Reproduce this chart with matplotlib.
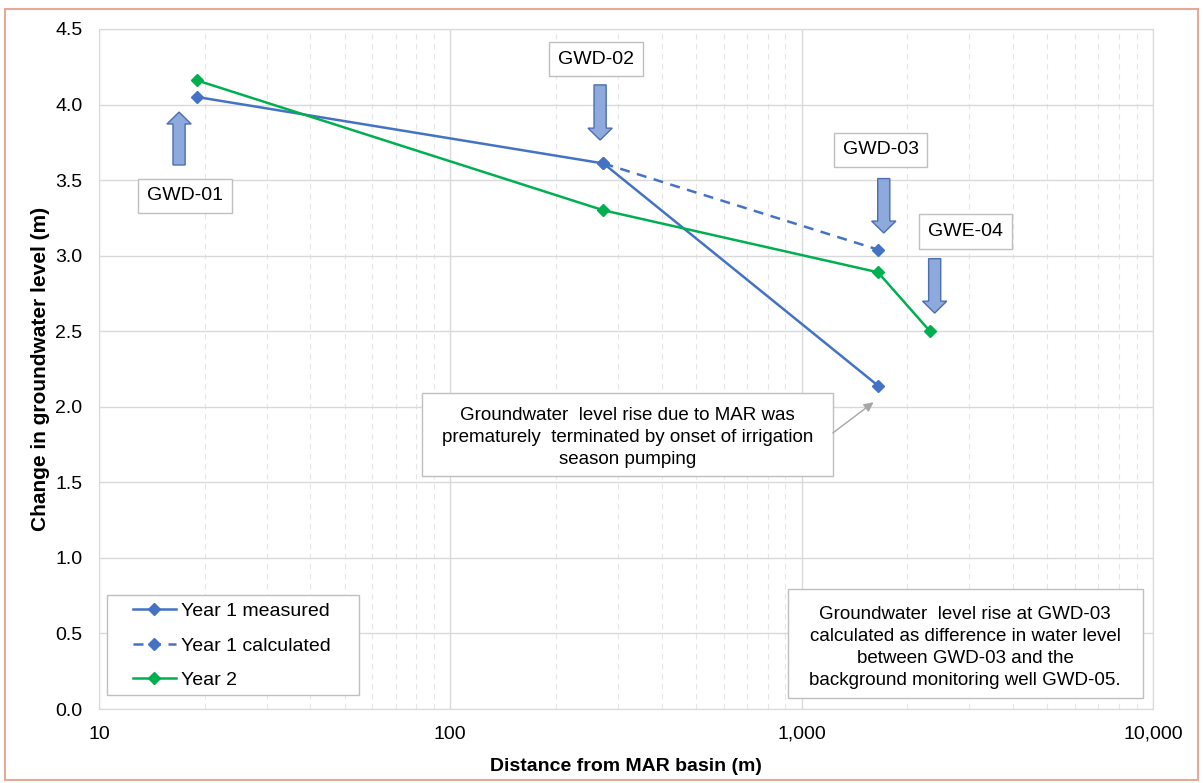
import numpy as np
import matplotlib.pyplot as plt
from matplotlib.patches import FancyArrow, Rectangle
from matplotlib.ticker import FuncFormatter, LogLocator, NullFormatter

plt.rcParams['font.family'] = ['Liberation Sans', 'DejaVu Sans']

# distances (m) and groundwater level change (m)
y1_meas_x = [19, 273, 1650]
y1_meas_y = [4.05, 3.61, 2.14]
y1_calc_x = [273, 1650]
y1_calc_y = [3.61, 3.04]
y2_x = [19, 273, 1650, 2320]
y2_y = [4.16, 3.30, 2.89, 2.50]

well_names = ['GWD-01', 'GWD-02', 'GWD-03', 'GWE-04']
well_dist = [16.9, 267, 1714, 2393]

blue = '#4472C4'
green = '#00B050'
box_edge = '#BFBFBF'

fig = plt.figure(figsize=(12.03, 7.83), dpi=100)
fig.patches.append(Rectangle((0.004, 0.004), 0.992, 0.984, transform=fig.transFigure,
                             fill=False, edgecolor='#E8A898', linewidth=1.5))
ax = fig.add_axes([0.0823, 0.0945, 0.876, 0.8685])

ax.plot(y1_meas_x, y1_meas_y, color=blue, lw=1.8, marker='D', ms=6.5, label='Year 1 measured')
ax.plot(y1_calc_x, y1_calc_y, color=blue, lw=1.8, ls=(0, (4, 3)), marker='D', ms=6.5,
        label='Year 1 calculated')
ax.plot(y2_x, y2_y, color=green, lw=1.8, marker='D', ms=6.5, label='Year 2')

ax.set_xscale('log')
ax.set_xlim(10, 10000)
ax.set_ylim(0, 4.5)
ax.set_yticks([i * 0.5 for i in range(10)])
ax.yaxis.set_major_formatter(FuncFormatter(lambda v, p: f'{v:.1f}'))
ax.xaxis.set_major_locator(LogLocator(base=10))
ax.xaxis.set_minor_locator(LogLocator(base=10, subs=range(2, 10)))
ax.xaxis.set_minor_formatter(NullFormatter())
ax.xaxis.set_major_formatter(FuncFormatter(lambda v, p: f'{int(v):,}'))
ax.tick_params(which='both', length=0, labelsize=14, pad=12)
ax.grid(which='major', color='#D9D9D9', lw=1)
ax.grid(which='minor', axis='x', color='#E6E6E6', lw=0.8, ls=(0, (5, 4)))
ax.set_axisbelow(True)
for s in ax.spines.values():
    s.set_color('#D9D9D9')

ax.set_xlabel('Distance from MAR basin (m)', fontsize=14, fontweight='bold', labelpad=11)
ax.set_ylabel('Change in groundwater level (m)', fontsize=15, fontweight='bold', labelpad=4)

# block arrows pointing at each well (axes fraction, x from log distance)
arrow_y = [(3.60, 0.35), (4.13, -0.365), (3.51, -0.36), (2.98, -0.36)]
for d, (y0, dy) in zip(well_dist, arrow_y):
    xa = (np.log10(d) - 1) / 3
    ax.add_patch(FancyArrow(xa, y0 / 4.5, 0, dy / 4.5, transform=ax.transAxes,
                            width=0.0115, head_width=0.023, head_length=0.0175,
                            length_includes_head=True, facecolor='#8EA9DB',
                            edgecolor='#4A6EB0', linewidth=1, zorder=4))

box = dict(boxstyle='square,pad=0.45', facecolor='white', edgecolor=box_edge, lw=1)
label_pos = [(17.6, 3.395), (260, 4.30), (1680, 3.70), (2930, 3.16)]
for name, (lx, ly) in zip(well_names, label_pos):
    ax.text(lx, ly, name, fontsize=14, ha='center', va='center', bbox=box, zorder=5)

# note about irrigation pumping, with leader to the last measured point
ax.add_patch(Rectangle((0.3065, 0.3426), 0.3899, 0.1221, transform=ax.transAxes,
                       facecolor='white', edgecolor=box_edge, lw=1, zorder=5))
ax.text(0.5015, 0.3992,
        'Groundwater  level rise due to MAR was\nprematurely  terminated by onset of irrigation\nseason pumping',
        transform=ax.transAxes, fontsize=13.5, ha='center', va='center',
        linespacing=1.36, zorder=6)
ax.annotate('', xy=(1603, 2.03), xytext=(0.6964, 0.406), textcoords='axes fraction',
            arrowprops=dict(arrowstyle='-|>', color='#A6A6A6', lw=1, shrinkA=0, shrinkB=0,
                            mutation_scale=14),
            zorder=6)

# note about the GWD-03 calculation
ax.add_patch(Rectangle((0.6537, 0.0162), 0.3368, 0.1603, transform=ax.transAxes,
                       facecolor='white', edgecolor=box_edge, lw=1, zorder=5))
ax.text(0.822, 0.0905,
        'Groundwater  level rise at GWD-03\ncalculated as difference in water level\nbetween GWD-03 and the\nbackground monitoring well GWD-05.',
        transform=ax.transAxes, fontsize=13.5, ha='center', va='center',
        linespacing=1.38, zorder=6)

# legend with a separately drawn frame
ax.add_patch(Rectangle((0.0076, 0.0206), 0.2391, 0.147, transform=ax.transAxes,
                       facecolor='white', edgecolor=box_edge, lw=1, zorder=5))
leg = ax.legend(loc='upper left', bbox_to_anchor=(0.032, 0.157), fontsize=14,
                frameon=False, borderpad=0, borderaxespad=0, handlelength=2.2,
                labelspacing=0.88, handletextpad=0.3)
leg.set_zorder(6)

fig.savefig('out.png', dpi=100)
